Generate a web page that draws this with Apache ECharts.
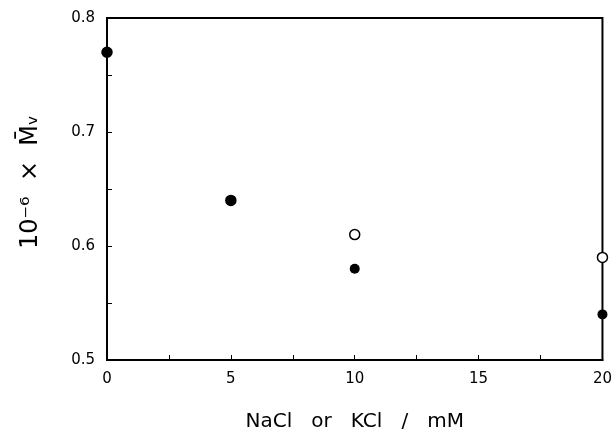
<!DOCTYPE html>
<html>
<head>
<meta charset="utf-8">
<script src="https://cdn.jsdelivr.net/npm/echarts@6/dist/echarts.min.js"></script>
<style>
  html, body { margin: 0; padding: 0; background: #fff; }
  #chart { width: 615px; height: 437px; }
</style>
</head>
<body>
<div id="chart"></div>
<script>
const saltConc = [0, 5, 10, 20];
const filledMv = [0.77, 0.64, 0.58, 0.54];
const openMv = [0.77, 0.64, 0.61, 0.59];

const FONT = "DejaVu Sans";

const chart = echarts.init(document.getElementById("chart"));

function pairs(xs, ys) {
  return xs.map((x, i) => [x, ys[i]]);
}

const tickStyle = {
  axisLine: { show: true, lineStyle: { color: "#000", width: 2 } },
  axisTick: { show: true, inside: true, length: 5, lineStyle: { color: "#000", width: 1 } },
  minorTick: { show: true, splitNumber: 2, length: 5, lineStyle: { color: "#000", width: 1 } },
  splitLine: { show: false },
  axisLabel: { color: "#000", fontFamily: FONT, fontSize: 15, margin: 12 }
};

chart.setOption({
  animation: false,
  backgroundColor: "#fff",
  grid: {
    left: 107, right: 12, top: 18, bottom: 75,
    show: true, borderColor: "#000", borderWidth: 2, backgroundColor: "transparent"
  },
  xAxis: {
    type: "value",
    min: 0, max: 20, interval: 5,
    name: "NaCl   or   KCl   /   mM",
    nameLocation: "middle",
    nameGap: 52,
    nameTextStyle: { color: "#000", fontFamily: FONT, fontSize: 20 },
    ...tickStyle
  },
  yAxis: {
    type: "value",
    min: 0.5, max: 0.8, interval: 0.1,
    name: "10\u207B\u2076  \u00D7  M\u0304\u1D65",
    nameLocation: "middle",
    nameGap: 64,
    nameTextStyle: { color: "#000", fontFamily: FONT, fontSize: 24, padding: [0, 0, 0, 14] },
    ...tickStyle,
    axisLabel: { ...tickStyle.axisLabel, formatter: (v) => v.toFixed(1) }
  },
  series: [
    {
      name: "open",
      type: "scatter",
      clip: false,
      symbol: "circle",
      symbolSize: 10,
      itemStyle: { color: "#fff", borderColor: "#000", borderWidth: 1.5, opacity: 1 },
      data: pairs(saltConc, openMv),
      z: 2
    },
    {
      name: "filled",
      type: "scatter",
      clip: false,
      symbol: "circle",
      symbolSize: 10,
      itemStyle: { color: "#000", opacity: 1 },
      data: pairs(saltConc, filledMv),
      z: 3
    }
  ]
});

window.addEventListener("resize", () => chart.resize());
</script>
</body>
</html>
